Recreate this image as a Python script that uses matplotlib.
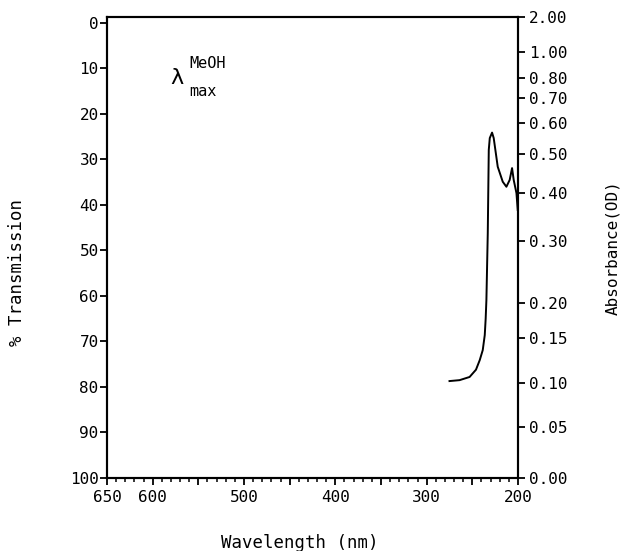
import matplotlib
matplotlib.use("Agg")
import matplotlib.pyplot as plt
from matplotlib.ticker import FixedLocator

# ---- data ----
wavelength = [275, 264, 253, 246, 241.9, 238.6, 236.4, 235.4, 234.6, 233.1, 232,
              230.9, 228.4, 226.6, 222.2, 216.7, 212.7, 209.1, 206.5, 204.7, 201.7, 200.3]
transmission = [78.7, 78.5, 77.8, 76.2, 74.1, 71.9, 68.6, 65.0, 60.9, 46.2, 27.9,
                25.3, 24.1, 25.3, 31.6, 34.9, 36.0, 34.5, 31.9, 34.5, 37.4, 41.1]

x_major = [650, 600, 550, 500, 450, 400, 350, 300, 250, 200]
x_labels = ["650", "600", "", "500", "", "400", "", "300", "", "200"]
y_ticks = [0, 10, 20, 30, 40, 50, 60, 70, 80, 90, 100]
abs_labels = ["2.00", "1.00", "0.80", "0.70", "0.60", "0.50", "0.40", "0.30",
              "0.20", "0.15", "0.10", "0.05", "0.00"]
abs_tick_T = [-1.3, 6.3, 12.1, 16.5, 22.0, 28.8, 37.4, 47.9, 61.5, 69.2, 79.1, 88.8, 100]

FONT = "DejaVu Sans Mono"
plt.rcParams['font.family'] = [FONT, 'DejaVu Sans']
FS = 11.5

fig = plt.figure(figsize=(6.23, 5.51), dpi=100)
ax = fig.add_axes([107/623, 1-478/551, (518-107)/623, (478-17)/551])

ax.plot(wavelength, transmission, color="black", lw=1.4)
ax.set_xlim(650, 200)
ax.set_ylim(100, -1.3)

for s in ax.spines.values():
    s.set_linewidth(1.5)

ax.set_xticks(x_major)
ax.set_xticklabels(x_labels, fontsize=FS)
ax.xaxis.set_minor_locator(FixedLocator(list(range(200, 651, 10))))
ax.tick_params(axis="x", which="major", direction="out", length=5, width=1.3, pad=4)
ax.tick_params(axis="x", which="minor", direction="out", length=3, width=1.1)

ax.set_yticks(y_ticks)
ax.set_yticklabels([str(v) for v in y_ticks], fontsize=FS)
ax.tick_params(axis="y", direction="out", length=5, width=1.3, pad=1)

ax2 = ax.twinx()
ax2.set_ylim(ax.get_ylim())
ax2.set_yticks(abs_tick_T)
ax2.set_yticklabels(abs_labels, fontsize=FS)
ax2.tick_params(axis="y", direction="out", length=5, width=1.3, pad=3)
for s in ax2.spines.values():
    s.set_linewidth(1.5)

fig.text(17/623, 1-273/551, "% Transmission", rotation=90, ha="center", va="center",
         fontsize=12.5)
fig.text(613/623, 1-248/551, "Absorbance(OD)", rotation=90, ha="center", va="center",
         fontsize=11.5)
fig.text(300/623, 1-543/551, "Wavelength (nm)", ha="center", va="center", fontsize=12.5)

fig.text(177/623, 1-78/551, "λ", ha="center", va="center", fontsize=16)
fig.text(189/623, 1-64/551, "MeOH", ha="left", va="center", fontsize=11)
fig.text(189/623, 1-91/551, "max", ha="left", va="center", fontsize=11)

fig.savefig("out.png", dpi=100)
